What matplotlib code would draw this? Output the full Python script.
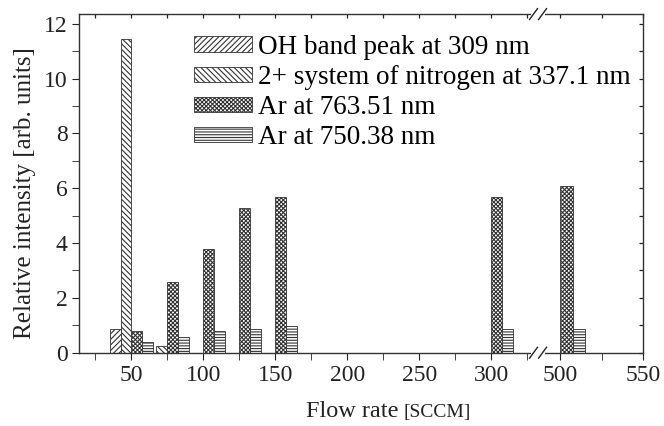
import numpy as np
import matplotlib
matplotlib.use('Agg')
import matplotlib.pyplot as plt
from matplotlib.ticker import FixedLocator

# Data
flow = [50, 75, 100, 125, 150, 300, 500]
oh_309 = [0.87, 0, 0, 0, 0, 0, 0]
n2_337 = [11.45, 0.24, 0, 0, 0, 0, 0]
ar_763 = [0.78, 2.58, 3.78, 5.28, 5.68, 5.68, 6.08]
ar_750 = [0.40, 0.58, 0.78, 0.88, 0.98, 0.88, 0.88]
labels = ['OH band peak at 309 nm',
          '2+ system of nitrogen at 337.1 nm',
          'Ar at 763.51 nm',
          'Ar at 750.38 nm']
major_x = [50, 100, 150, 200, 250, 300, 500, 550]
minor_x = [25, 75, 125, 175, 225, 275, 325, 525]
major_y = [0, 2, 4, 6, 8, 10, 12]
minor_y = [1, 3, 5, 7, 9, 11]

# broken x axis: 332.6 .. 486.8 is cut out
gap_lo, gap_hi = 332.6, 486.8
ratio = 1.157  # right segment is stretched a bit


def fwd(x):
    x = np.asarray(x, dtype=float)
    return np.where(x <= gap_lo, x,
                    np.where(x >= gap_hi, gap_lo + (x - gap_hi) * ratio, gap_lo))


def inv(u):
    u = np.asarray(u, dtype=float)
    return np.where(u <= gap_lo, u, gap_hi + (u - gap_lo) / ratio)


plt.rcParams['font.family'] = ['Liberation Serif', 'DejaVu Serif']
plt.rcParams['hatch.linewidth'] = 0.8
plt.rcParams['hatch.color'] = '#222222'

fig = plt.figure(figsize=(6.64, 4.26), dpi=100)
ax = fig.add_axes([0.1197, 0.172, 0.8491, 0.795])
ax.set_xscale('function', functions=(fwd, inv))

w = 7.5
x = np.array(flow, dtype=float)
series = [oh_309, n2_337, ar_763, ar_750]
hatches = ['//////', '\\\\\\\\\\\\', 'xxxxxxxx', '------']
offsets = [-2, -1, 0, 1]
for vals, h, off, lab in zip(series, hatches, offsets, labels):
    ax.bar(x + off * w, vals, width=w, align='edge', facecolor='white',
           edgecolor='#333333', linewidth=0.6, hatch=h, label=lab)

ax.set_xlim(14, 550)
ax.set_ylim(0, 12.35)
ax.xaxis.set_major_locator(FixedLocator(major_x))
ax.xaxis.set_minor_locator(FixedLocator(minor_x))
ax.set_yticks(major_y)
ax.yaxis.set_minor_locator(FixedLocator(minor_y))

ax.tick_params(axis='both', which='both', labelsize=17, colors='#222222',
               direction='out', length=5, top=False, right=False)
for s in ax.spines.values():
    s.set_color('#333333')
    s.set_linewidth(1.0)

# top / right ticks point inward
ax.vlines(major_x + minor_x, 1 - 4 / 339, 1, transform=ax.get_xaxis_transform(),
          color='#222222', lw=0.9, clip_on=False)
ax.hlines(major_y + minor_y, 1 - 4 / 564, 1, transform=ax.get_yaxis_transform(),
          color='#222222', lw=0.9, clip_on=False)

# break marks
bx = (fwd(gap_lo) - fwd(14)) / (fwd(550) - fwd(14))
for yb in (0, 1):
    ax.add_patch(plt.Rectangle((bx - 0.012, yb - 0.01), 0.024, 0.02,
                               transform=ax.transAxes, facecolor='white',
                               edgecolor='none', clip_on=False, zorder=5))
    for dx in (-0.008, 0.008):
        ax.plot([bx + dx - 0.007, bx + dx + 0.007], [yb - 0.016, yb + 0.016],
                transform=ax.transAxes, color='#222222', lw=1.0,
                clip_on=False, zorder=6)

ax.set_ylabel('Relative intensity [arb. units]', fontsize=18, color='#222222')
ax.yaxis.set_label_coords(-0.077, 0.47)
fig.text(0.461, 0.022, 'Flow rate', fontsize=17.5, color='#222222', ha='left', va='baseline')
fig.text(0.608, 0.022, '[SCCM]', fontsize=14, color='#222222', ha='left', va='baseline')

ax.legend(loc='upper left', bbox_to_anchor=(0.179, 0.979), frameon=False,
          fontsize=19.5, handlelength=2.15, handleheight=0.5, handletextpad=0.2,
          labelspacing=0.19, borderaxespad=0.1)

fig.savefig('out.png', dpi=100)
